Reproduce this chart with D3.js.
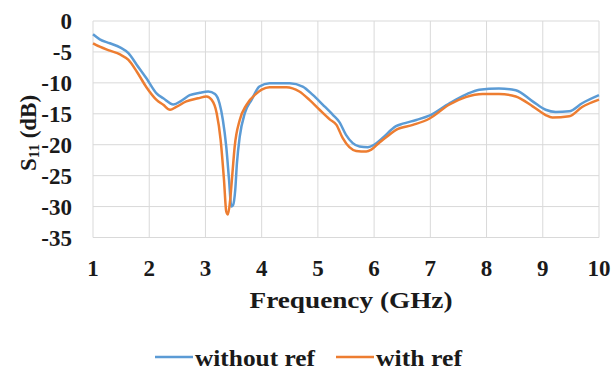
<!DOCTYPE html>
<html>
<head>
<meta charset="utf-8">
<script src="https://cdn.jsdelivr.net/npm/d3@7"></script>
<style>
  html, body { margin: 0; padding: 0; background: #fff; }
  svg { display: block; }
</style>
</head>
<body>
<svg id="chart" width="613" height="373"></svg>
<script>
// ---- data ----
const freqWithout = [1.00,1.12,1.30,1.48,1.63,1.78,1.95,2.13,2.25,2.43,2.57,2.72,2.90,3.05,3.17,3.25,3.31,3.37,3.42,3.46,3.49,3.53,3.56,3.61,3.70,3.82,3.96,4.14,4.50,4.73,4.91,5.09,5.27,5.38,5.50,5.62,5.74,5.89,6.00,6.15,6.39,6.51,6.75,6.98,7.34,7.63,7.87,8.22,8.52,8.82,9.05,9.23,9.47,9.70,10.0];
const s11Without = [-2.15,-2.96,-3.6,-4.25,-5.2,-7.1,-9.25,-11.7,-12.5,-13.5,-12.9,-12.0,-11.6,-11.4,-11.8,-13.3,-16.0,-20.3,-25.7,-30.0,-29.8,-27.3,-23.0,-18.7,-14.9,-12.75,-10.6,-10.05,-10.05,-10.6,-11.95,-13.55,-15.2,-16.3,-18.4,-19.75,-20.3,-20.4,-20.0,-18.9,-17.0,-16.6,-16.0,-15.3,-13.3,-11.9,-11.1,-10.9,-11.2,-13.0,-14.35,-14.7,-14.6,-13.3,-12.0];
const freqWith = [1.00,1.12,1.30,1.48,1.63,1.78,1.95,2.13,2.25,2.37,2.48,2.66,2.87,3.02,3.11,3.20,3.27,3.33,3.37,3.40,3.44,3.48,3.52,3.61,3.73,3.91,4.00,4.14,4.44,4.67,4.85,5.03,5.21,5.33,5.44,5.56,5.68,5.86,5.95,6.10,6.27,6.39,6.69,6.98,7.34,7.63,7.93,8.22,8.52,8.82,9.05,9.17,9.47,9.70,10.0];
const s11With = [-3.6,-4.15,-4.8,-5.4,-6.3,-8.2,-10.7,-12.75,-13.55,-14.35,-13.9,-13.0,-12.5,-12.2,-12.75,-14.9,-19.2,-25.7,-30.8,-31.3,-28.9,-24.6,-20.3,-16.0,-13.55,-11.7,-11.1,-10.7,-10.7,-11.4,-12.75,-14.35,-15.9,-16.8,-18.9,-20.4,-21.0,-21.1,-20.8,-19.6,-18.4,-17.6,-16.8,-15.8,-13.5,-12.3,-11.8,-11.8,-12.2,-13.8,-15.2,-15.6,-15.4,-13.9,-12.7];
const xTicks = [1,2,3,4,5,6,7,8,9,10];
const yTicks = [0,-5,-10,-15,-20,-25,-30,-35];
const seriesNames = ["without ref", "with ref"];
const seriesColors = ["#5b9bd5", "#ed7d31"];

// ---- chart ----
const FONT = "'Liberation Serif', 'Times New Roman', Times, serif";
const TXT = "#1a1a1a";
const svg = d3.select("#chart");
const x = d3.scaleLinear().domain([1, 10]).range([93, 599]);
const y = d3.scaleLinear().domain([0, -35]).range([21, 237.5]);

// gridlines
svg.append("g").selectAll("line").data(xTicks).join("line")
  .attr("x1", d => x(d)).attr("x2", d => x(d))
  .attr("y1", y(0)).attr("y2", y(-35))
  .attr("stroke", "#d9d9d9").attr("stroke-width", 1);
svg.append("g").selectAll("line").data(yTicks).join("line")
  .attr("x1", x(1)).attr("x2", x(10))
  .attr("y1", d => y(d)).attr("y2", d => y(d))
  .attr("stroke", "#d9d9d9").attr("stroke-width", 1);

function styleText(sel, size) {
  return sel.attr("font-family", FONT).attr("font-weight", "bold")
    .attr("fill", TXT).attr("font-size", size);
}

// tick labels
styleText(svg.append("g").selectAll("text").data(yTicks).join("text"), 23)
  .attr("x", 72).attr("y", d => y(d)).attr("dy", "0.35em")
  .attr("text-anchor", "end")
  .text(d => d);
styleText(svg.append("g").selectAll("text").data(xTicks).join("text"), 23)
  .attr("x", d => x(d)).attr("y", 268).attr("dy", "0.35em")
  .attr("text-anchor", "middle")
  .text(d => d);

// axis titles
styleText(svg.append("text"), 23)
  .attr("x", 351).attr("y", 300).attr("dy", "0.35em")
  .attr("text-anchor", "middle")
  .attr("textLength", 203).attr("lengthAdjust", "spacingAndGlyphs")
  .text("Frequency (GHz)");
const yt = styleText(svg.append("text"), 23)
  .attr("transform", "translate(28,133) rotate(-90)")
  .attr("text-anchor", "middle").attr("dy", "0.35em");
yt.append("tspan").text("S");
yt.append("tspan").attr("font-size", 15).attr("dy", "3").text("11");
yt.append("tspan").attr("dy", "-3").text(" (dB)");

// lines
const line = d3.line().x(d => x(d[0])).y(d => y(d[1])).curve(d3.curveMonotoneX);
const series = [
  { f: freqWithout, v: s11Without, c: seriesColors[0] },
  { f: freqWith, v: s11With, c: seriesColors[1] }
];
series.forEach(s => {
  svg.append("path")
    .datum(s.f.map((f, i) => [f, s.v[i]]))
    .attr("fill", "none").attr("stroke", s.c).attr("stroke-width", 2.5)
    .attr("stroke-linejoin", "round").attr("d", line);
});

// legend
const legendItems = [
  { name: seriesNames[0], c: seriesColors[0], x0: 155, x1: 193, tx: 195, tw: 120 },
  { name: seriesNames[1], c: seriesColors[1], x0: 336, x1: 374, tx: 376, tw: 86 }
];
const lg = svg.append("g");
legendItems.forEach(it => {
  lg.append("line").attr("x1", it.x0).attr("x2", it.x1).attr("y1", 357).attr("y2", 357)
    .attr("stroke", it.c).attr("stroke-width", 2.5);
  styleText(lg.append("text"), 23).attr("x", it.tx).attr("y", 358).attr("dy", "0.35em")
    .attr("textLength", it.tw).attr("lengthAdjust", "spacingAndGlyphs")
    .text(it.name);
});
</script>
</body>
</html>
